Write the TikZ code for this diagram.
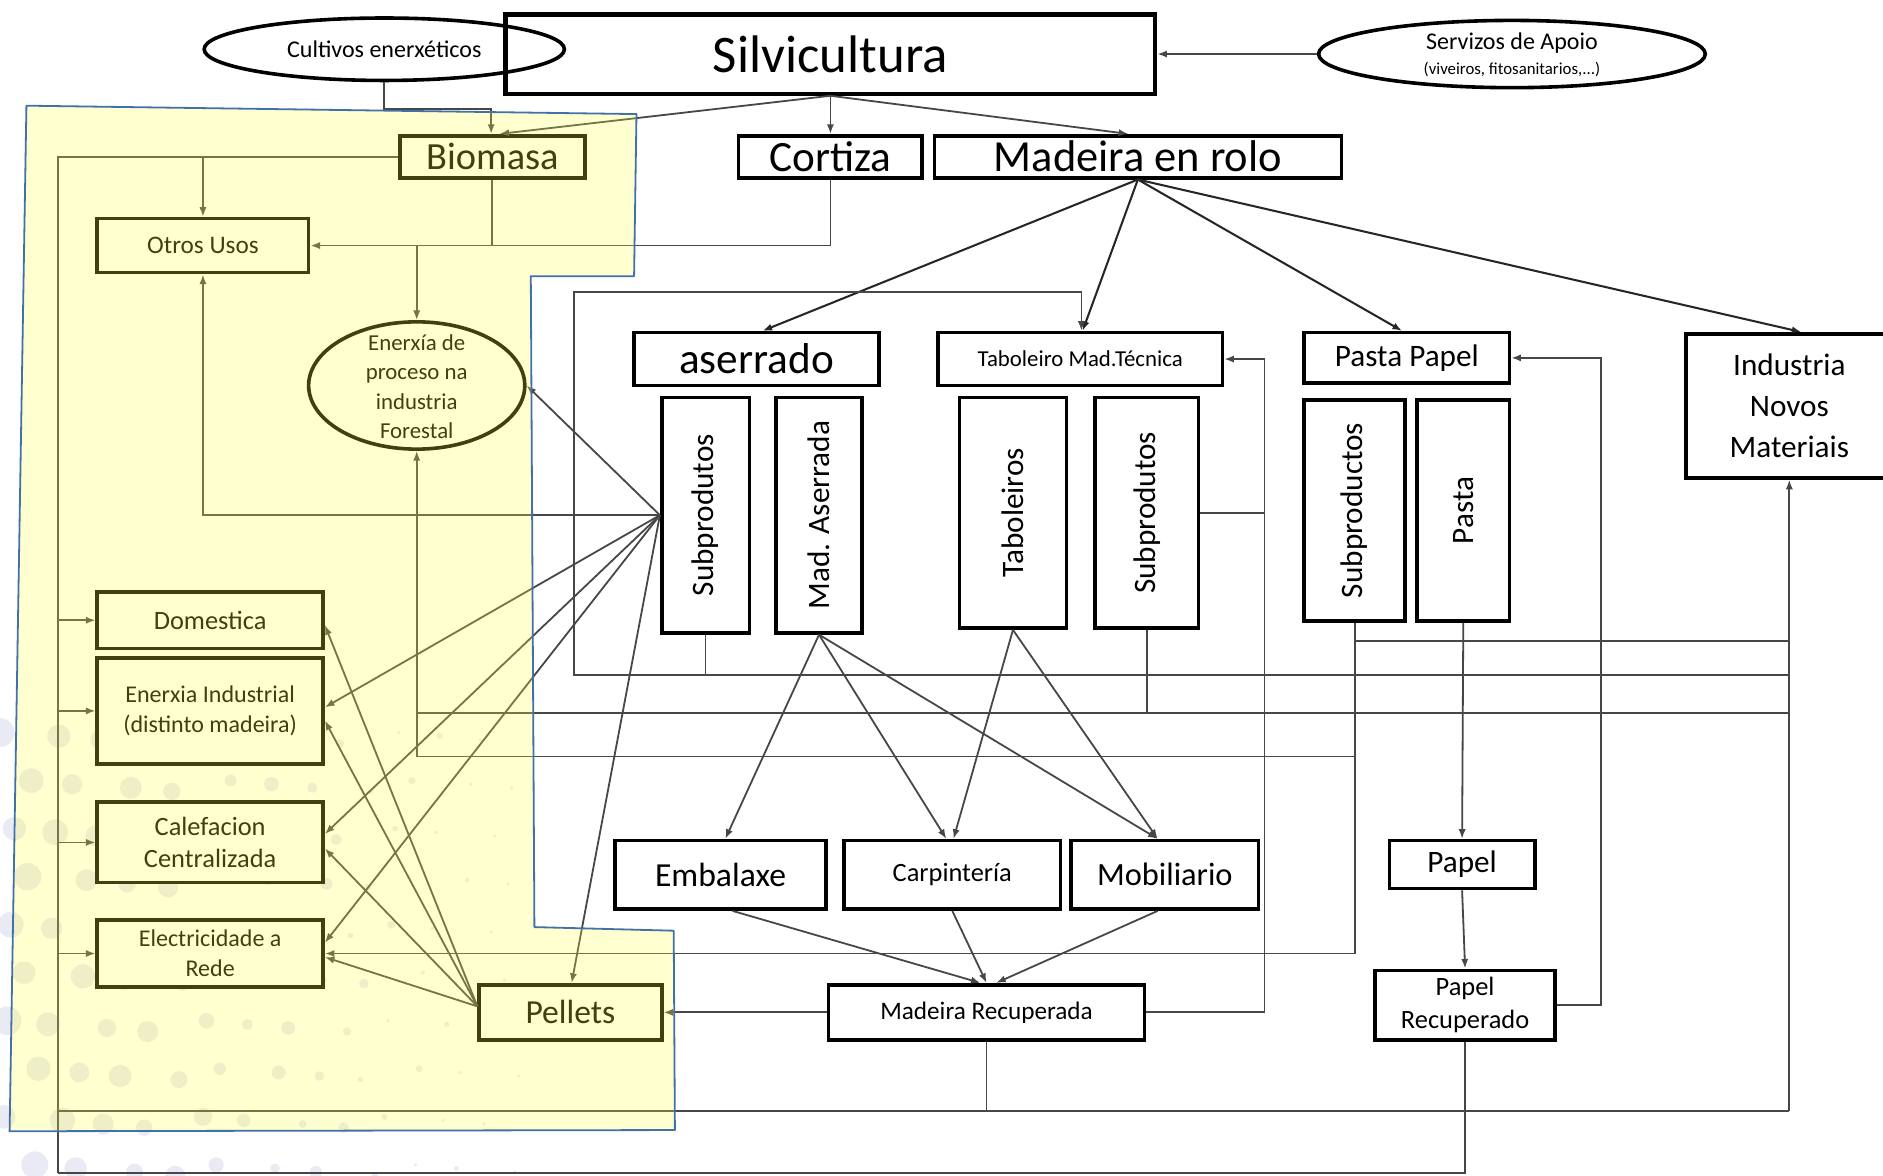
\documentclass[tikz,border=0pt]{standalone}
\usepackage{fontspec}
\setmainfont{Carlito}
\usetikzlibrary{shapes.geometric,arrows.meta}
\newcommand\fsz[2]{\fontsize{#1}{#2}\selectfont}
\definecolor{dotc}{RGB}{200,203,225}
\definecolor{ovl}{RGB}{255,255,67}
\definecolor{bordblue}{RGB}{65,113,170}
\begin{document}
\begin{tikzpicture}[x=1pt,y=-1pt,
  bx/.style={draw=black, line width=3pt, fill=white, inner sep=0pt, text=black, align=center},
  ell/.style={draw=black, ellipse, line width=3pt, inner sep=0pt},
  ln/.style={draw=black!72, line width=1.5pt},
  arr/.style={ln, -{Latex[length=8pt,width=6pt]}},
  rl/.style={draw=black!85, line width=1.7pt, -{Latex[length=8pt,width=6pt]}},
  vt/.style={rotate=90, inner sep=0pt, text=black},
]
\useasboundingbox (0,0) rectangle (1568,979);
\fill[white] (0,0) rectangle (1568,979);

% faint dot decoration
\foreach \r in {0,...,9}{\foreach \c in {0,...,10}{
  \pgfmathsetmacro\xx{\c*40+mod(\r,2)*20+mod(\r*7+\c*3,5)*3}
  \pgfmathsetmacro\yy{610+\r*40+mod(\c*5,4)*3}
  \pgfmathsetmacro\rr{max(1.5,12-\xx/38-mod(\r+\c,3))}
  \fill[dotc, opacity=0.4] (\xx,\yy) circle[radius=\rr pt];
}}

% coordinates for buses
\coordinate (L) at (48,0);
\coordinate (Xl) at (478,0);
\coordinate (Xt) at (1053,0);
\coordinate (Xp) at (1333,0);

% ---------- nodes ----------
\node[bx, line width=3.5pt, minimum width=541pt, minimum height=66pt, font=\fsz{44}{48}] (silv) at (691.5,45) {Silvicultura};
\node[ell, minimum width=300pt, minimum height=52pt] (cult) at (320,41) {};
\node[inner sep=0pt, font=\fsz{20}{22}] (cultT) at (320,41) {Cultivos enerxéticos};
\node[ell, minimum width=322pt, minimum height=56pt] (serv) at (1259,45) {};
\node[inner sep=0pt, font=\fsz{20}{21}] (servT) at (1259,36) {Servizos de Apoio};
\node[inner sep=0pt, font=\fsz{14}{14}] (servT2) at (1259,58) {(viveiros, fitosanitarios,...)};

\node[bx, minimum width=154pt, minimum height=35pt, font=\fsz{32}{34}] (biom) at (410,130.5) {Biomasa};
\node[bx, minimum width=153pt, minimum height=35pt, font=\fsz{36}{38}] (cort) at (691.5,130.5) {Cortiza};
\node[bx, minimum width=339pt, minimum height=35pt, font=\fsz{37}{39}] (mrolo) at (947.5,130.5) {Madeira en rolo};

\node[bx, minimum width=176pt, minimum height=45pt, font=\fsz{21}{24}] (otros) at (169,204.5) {Otros Usos};
\node[ell, minimum width=180pt, minimum height=106pt] (enerproc) at (347,321) {};
\node[inner sep=0pt, align=center, font=\fsz{19}{24.5}] (enerprocT) at (347,322) {Enerxía de\\proceso na\\industria\\Forestal};

\node[bx, minimum width=204pt, minimum height=44pt, font=\fsz{36}{38}] (aserr) at (630,299) {aserrado};
\node[bx, minimum width=237pt, minimum height=44pt, font=\fsz{19}{21}] (tabmt) at (899.5,299) {Taboleiro Mad.Técnica};
\node[bx, minimum width=171pt, minimum height=42pt, font=\fsz{26}{28}] (ppapel) at (1171.5,298) {Pasta Papel};
\node[bx, minimum width=172pt, minimum height=120pt, font=\fsz{26}{34}] (indnov) at (1490,338) {Industria\\Novos\\Materiais};

\node[bx, minimum width=73pt, minimum height=196pt] (subA) at (587.5,429) {};
\node[vt, font=\fsz{26}{28}] (subAT) at (subA) {Subprodutos};
\node[bx, minimum width=72pt, minimum height=196pt] (madA) at (682,429) {};
\node[vt, font=\fsz{26}{28}] (madAT) at (madA) {Mad. Aserrada};
\node[bx, minimum width=89pt, minimum height=192pt] (tabs) at (843.5,427) {};
\node[vt, font=\fsz{26}{28}] (tabsT) at (tabs) {Taboleiros};
\node[bx, minimum width=86pt, minimum height=192pt] (subT) at (955,427) {};
\node[vt, font=\fsz{26}{28}] (subTT) at (subT) {Subprodutos};
\node[bx, minimum width=84pt, minimum height=184pt] (subP) at (1128,425) {};
\node[vt, font=\fsz{26}{28}] (subPT) at (subP) {Subproductos};
\node[bx, minimum width=77pt, minimum height=184pt] (pasta) at (1218.5,425) {};
\node[vt, font=\fsz{26}{28}] (pastaT) at (pasta) {Pasta};

\node[bx, minimum width=188pt, minimum height=47pt, font=\fsz{22}{24}] (domest) at (175,516.5) {Domestica};
\node[bx, minimum width=188pt, minimum height=88pt, font=\fsz{20}{25}] (enind) at (175,592) {Enerxia Industrial\\(distinto madeira)};
\node[bx, minimum width=188pt, minimum height=67pt, font=\fsz{22}{27}] (calef) at (175,701.5) {Calefacion\\Centralizada};
\node[bx, minimum width=188pt, minimum height=56pt, font=\fsz{20}{25}] (elect) at (175,794) {Electricidade a\\Rede};
\node[bx, minimum width=152pt, minimum height=46pt, font=\fsz{28}{30}] (pellets) at (475,843) {Pellets};

\node[bx, minimum width=176pt, minimum height=57pt, font=\fsz{28}{30}] (embal) at (600,728.5) {Embalaxe};
\node[bx, minimum width=180pt, minimum height=57pt, font=\fsz{22}{24}] (carp) at (793,728.5) {Carpintería};
\node[bx, minimum width=156pt, minimum height=57pt, font=\fsz{27}{29}] (mobil) at (970,728.5) {Mobiliario};
\node[bx, minimum width=263pt, minimum height=46pt, font=\fsz{21}{23}] (madrec) at (821.5,843) {Madeira Recuperada};
\node[bx, minimum width=121pt, minimum height=40pt, font=\fsz{26}{28}] (papel) at (1217.5,720) {Papel};
\node[bx, minimum width=150pt, minimum height=58pt, font=\fsz{22}{27}] (paprec) at (1220,837) {Papel\\Recuperado};

% ---------- connectors ----------
\draw[arr] (serv.west) -- (serv.west -| silv.east);
\draw[arr] (cult.south) -- ++(0,22) -| ([xshift=-1pt]biom.north);
\draw[arr] (silv.south) -- ([xshift=6pt]biom.north);
\draw[arr] (silv.south) -- (cort.north);
\draw[arr] (silv.south) -- ([xshift=-8pt]mrolo.north);
\draw[rl] (mrolo.south) -- ([xshift=5pt]aserr.north);
\draw[rl] (mrolo.south) -- ([xshift=2pt]tabmt.north);
\draw[rl] (mrolo.south) -- ([xshift=-4pt]ppapel.north);
\draw[rl] (mrolo.south) -- ([xshift=10pt]indnov.north);

\draw[ln] (biom.west) -| (L |- 0,977);
\draw[arr] (otros.north |- biom.west) -- (otros.north);
\draw[arr] (biom.south) |- (otros.east);
\draw[ln] (cort.south) |- (biom.south |- otros.east);
\draw[arr] (enerproc.north |- otros.east) -- (enerproc.north);

\draw[arr] (subA.west) -| (otros.south);
\draw[arr] (subA.west) -- (enerproc.east);
\draw[arr] (subA.west) -- ([yshift=3pt]enind.east);
\draw[arr] (subA.west) -- ([yshift=7pt]calef.east);
\draw[arr] (subA.west) -- ([yshift=9pt]elect.east);
\draw[arr] (subA.west) -- ([xshift=1pt]pellets.north);

\coordinate (pS) at ([yshift=5pt]pellets.west);
\draw[arr] (pS) -- ([yshift=-4pt]domest.east);
\draw[arr] (pS) -- ([yshift=-8pt]enind.east);
\draw[arr] (pS) -- ([yshift=-5pt]calef.east);
\draw[arr] (pS) -- ([yshift=-3pt]elect.east);
\draw[arr] (madrec.west) -- (pellets.east);
\foreach \n in {domest,enind,calef,elect} \draw[arr] (\n.west -| L) -- (\n.west);

\draw[arr] (madA.south) -- ([xshift=4pt]embal.north);
\draw[arr] (madA.south) -- ([xshift=-5pt]carp.north);
\draw[arr] (madA.south) -- ([xshift=-6pt]mobil.north);
\draw[arr] (tabs.south) -- ([xshift=1pt]carp.north);
\draw[arr] (tabs.south) -- ([xshift=-6pt]mobil.north);
\draw[arr] ([xshift=10pt]embal.south) -- ([xshift=-5pt]madrec.north);
\draw[arr] (carp.south) -- (madrec.north);
\draw[arr] ([xshift=-6pt]mobil.south) -- ([xshift=8pt]madrec.north);

\draw[ln] (subA.south) |- (indnov.south |- 0,562);
\draw[arr] (subA.south |- 0,562) -| (Xl |- 0,243) -| ([xshift=1pt]tabmt.north);
\draw[ln] (subT.south) -- (subT.south |- 0,594);
\draw[ln] (enerproc.south |- 0,594) -- (indnov.south |- 0,594);
\draw[arr] (enerproc.south |- 0,630) -- (enerproc.south);
\draw[arr] (subP.south) |- (elect.east);
\draw[ln] (subP.south |- 0,534) -- (indnov.south |- 0,534);
\draw[ln] (subP.south |- 0,630) -- (enerproc.south |- 0,630);
\draw[ln] (subT.east) -- (subT.east -| Xt);
\draw[arr] (madrec.east) -| (Xt |- tabmt.east) -- (tabmt.east);
\draw[arr] (pasta.south) -- (papel.north);
\draw[arr] (papel.south) -- (paprec.north);
\draw[arr] (paprec.east) -| (Xp |- ppapel.east) -- (ppapel.east);
\draw[ln] (madrec.south) -- (madrec.south |- 0,925);
\draw[ln] (L |- 0,925) -- (indnov.south |- 0,925);
\draw[arr] (indnov.south |- 0,925) -- (indnov.south);
\draw[ln] (paprec.south) |- (L |- 0,977);

% ---------- yellow overlay ----------
\fill[ovl, fill opacity=0.25] (22,88) -- (530,95) -- (528,230) -- (442,230) -- (445,772) -- (561,775) -- (562,941) -- (8,942) -- cycle;
\draw[bordblue, line width=1.5pt, line join=round] (22,88) -- (530,95) -- (528,230) -- (442,230) -- (445,772) -- (561,775) -- (562,941) -- (8,942) -- cycle;
\end{tikzpicture}
\end{document}
